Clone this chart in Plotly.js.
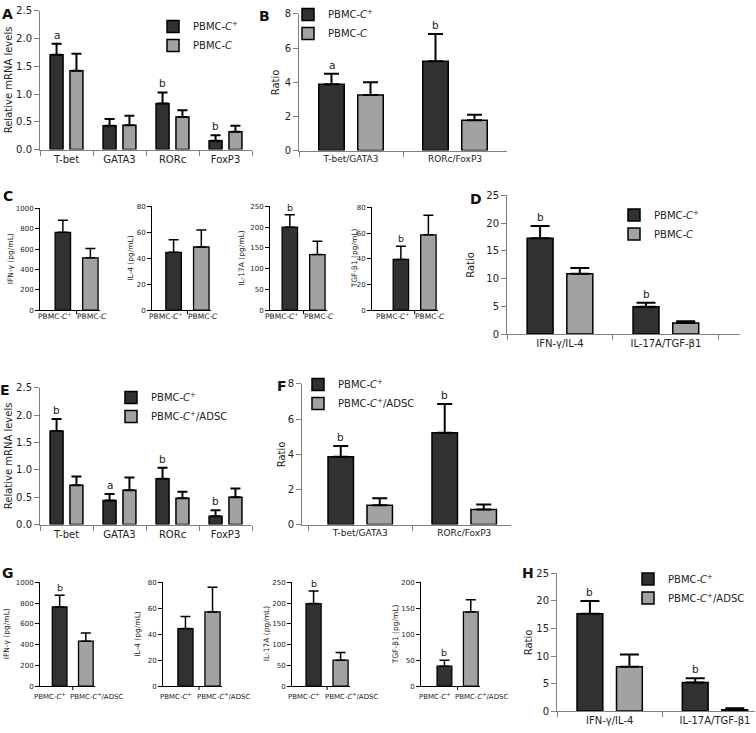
<!DOCTYPE html>
<html><head><meta charset="utf-8">
<script src="https://cdn.plot.ly/plotly-3.0.1.min.js"></script>
<style>html,body{margin:0;padding:0;background:#fff}#chart{width:756px;height:733px}</style>
</head><body><div id="chart"></div>
<script>
// ---------- data ----------
const geneCats = ['T-bet','GATA3','RORc','FoxP3'];
const ratioCats = ['T-bet/GATA3','RORc/FoxP3'];
const cytoRatioCats = ['IFN-γ/IL-4','IL-17A/TGF-β1'];
const C_cats = ['PBMC-<i>C</i><sup>+</sup>','PBMC-<i>C</i>'];
const G_cats = ['PBMC-<i>C</i><sup>+</sup>','PBMC-<i>C</i><sup>+</sup>/ADSC'];
const L_pos = 'PBMC-<i>C</i><sup>+</sup>';
const L_neg = 'PBMC-<i>C</i>';
const L_adsc = 'PBMC-<i>C</i><sup>+</sup>/ADSC';

const A_pos = [1.71,0.43,0.83,0.16];   const A_pos_err = [0.20,0.12,0.20,0.10];
const A_neg = [1.42,0.44,0.59,0.32];   const A_neg_err = [0.31,0.17,0.12,0.11];
const A_sig = ['a','','b','b'];

const B_pos = [3.88,5.23];  const B_pos_err = [0.62,1.59];
const B_neg = [3.26,1.78];  const B_neg_err = [0.74,0.32];
const B_sig = ['a','b'];

const C_ifn = [765,515];    const C_ifn_err = [118,90];   const C_ifn_sig = ['',''];
const C_il4 = [44.6,48.7];  const C_il4_err = [9.8,13.1]; const C_il4_sig = ['',''];
const C_il17 = [200,134];   const C_il17_err = [30,32];   const C_il17_sig = ['b',''];
const C_tgf = [39.5,58.7];  const C_tgf_err = [10.2,15.3]; const C_tgf_sig = ['b',''];

const D_pos = [17.3,4.93];  const D_pos_err = [2.2,0.72];
const D_neg = [10.9,2.0];   const D_neg_err = [1.0,0.3];
const D_sig = ['b','b'];

const E_pos = [1.71,0.44,0.84,0.15];  const E_pos_err = [0.22,0.12,0.20,0.11];
const E_adsc = [0.72,0.63,0.48,0.50]; const E_adsc_err = [0.16,0.23,0.12,0.16];
const E_sig = ['b','a','b','b'];

const F_pos = [3.86,5.23];  const F_pos_err = [0.61,1.63];
const F_adsc = [1.10,0.85]; const F_adsc_err = [0.40,0.29];
const F_sig = ['b','b'];

const G_ifn = [763,433];    const G_ifn_err = [112,79];   const G_ifn_sig = ['b',''];
const G_il4 = [44.4,57.2];  const G_il4_err = [9.4,19];   const G_il4_sig = ['',''];
const G_il17 = [199,62.5];  const G_il17_err = [30,18.5]; const G_il17_sig = ['b',''];
const G_tgf = [38.5,143];   const G_tgf_err = [11.5,23.8]; const G_tgf_sig = ['b',''];

const H_pos = [17.7,5.17];  const H_pos_err = [2.3,0.8];
const H_adsc = [8.07,0.23]; const H_adsc_err = [2.2,0.27];
const H_sig = ['b','b'];

// ---------- styling / layout helpers ----------
const W = 756, H = 733;
const FONT = 'DejaVu Sans, Verdana, sans-serif';
const DARK = '#313131', GRAY = '#a2a2a2', AXC = '#808080', TXT = '#222';
const px = x => x / W, py = y => 1 - y / H;

const traces = [];
const layout = {
  width: W, height: H, margin: {l:0, r:0, t:0, b:0},
  paper_bgcolor: '#fff', plot_bgcolor: 'rgba(0,0,0,0)',
  barmode: 'group', showlegend: true,
  font: {family: FONT, color: TXT},
  annotations: [], shapes: []
};
let n = 0;
function ids(){ n++; const s = n > 1 ? n : ''; return {xa:'xaxis'+s, ya:'yaxis'+s, x:'x'+s, y:'y'+s}; }

function yTitle(id, text, xc, size){
  layout.annotations.push({xref:'paper', yref:id.y + ' domain', x:px(xc), y:0.5, xanchor:'center', yanchor:'middle',
    textangle:-90, text:text, showarrow:false, font:{size:size, family:FONT, color:TXT}});
}

function bigPanel(p){
  const id = ids();
  layout[id.xa] = {domain:[px(p.xd[0]), px(p.xd[1])], anchor:id.y, type:'category', range:p.xr,
    tickson:'boundaries', ticks:'outside', ticklen:5, tickcolor:AXC, showline:true, linecolor:AXC, linewidth:1,
    showgrid:false, zeroline:false, tickangle:0, tickfont:{size:p.xfs, family:FONT, color:TXT}, fixedrange:true};
  layout[id.ya] = {domain:[py(p.yd[1]), py(p.yd[0])], anchor:id.x, range:p.yr, dtick:p.dtick, tick0:0,
    tickformat:p.fmt, ticks:'outside', ticklen:5, tickcolor:AXC, showline:true, linecolor:AXC, linewidth:1,
    showgrid:false, zeroline:false, tickfont:{size:10, family:FONT, color:TXT}, fixedrange:true};
  yTitle(id, p.ytitle, p.tx, 10);
  p.series.forEach((s,k) => {
    traces.push({type:'bar', x:p.cats, y:s.y, name:s.name, xaxis:id.x, yaxis:id.y, legend:p.legend,
      offset: k === 0 ? -0.31 : 0.065, width:0.245,
      marker:{color: k === 0 ? DARK : GRAY, line:{color:'#000', width:1.5}},
      error_y:{type:'data', symmetric:false, array:s.e, arrayminus:s.e.map(() => 0), color:'#000', thickness:2, width:p.cap},
      hoverinfo:'skip'});
  });
  p.sig.forEach((t,i) => {
    if (!t) return;
    layout.annotations.push({xref:id.x, yref:id.y, x:i - 0.1875, y:p.series[0].y[i] + p.series[0].e[i],
      text:t, showarrow:false, yanchor:'bottom', yshift:1, font:{size:10.5, family:FONT, color:TXT}});
  });
  layout[p.legend] = {x:px(p.leg[0] - 42), y:py(p.leg[1]), xanchor:'left', yanchor:'middle',
    bgcolor:'rgba(0,0,0,0)', font:{size:10, family:FONT, color:TXT}, traceorder:'normal'};
}

function smallPanel(p){
  const id = ids();
  const idx = p.cats.map((_, i) => i);
  layout[id.xa] = {domain:[px(p.xd[0]), px(p.xd[1])], anchor:id.y, type:'linear', range:p.xr,
    ticks:'', showticklabels:false, showline:true, linecolor:'#000', linewidth:1, showgrid:false, zeroline:false,
    fixedrange:true};
  layout[id.ya] = {domain:[py(p.yd[1]), py(p.yd[0])], anchor:id.x, range:p.yr, dtick:p.dtick, tick0:0,
    ticks:'outside', ticklen:4, tickcolor:'#000', showline:true, linecolor:'#000', linewidth:1,
    showgrid:false, zeroline:false, tickfont:{size:7, family:FONT, color:TXT}, fixedrange:true};
  yTitle(id, p.ytitle, p.tx, 7.5);
  traces.push({type:'bar', x:idx, y:p.y, xaxis:id.x, yaxis:id.y, showlegend:false,
    offset:-0.28, width:0.56,
    marker:{color:[DARK, GRAY], line:{color:'#000', width:1.3}},
    error_y:{type:'data', symmetric:false, array:p.e, arrayminus:p.e.map(() => 0), color:'#000', thickness:1.5, width:5},
    hoverinfo:'skip'});
  // tick mark between the two bars
  layout.shapes.push({type:'line', xref:id.x, yref:id.y + ' domain', x0:0.5, x1:0.5, y0:0,
    y1:-4 / (p.yd[1] - p.yd[0]), line:{color:'#000', width:1}});
  // category labels under the bars
  p.cats.forEach((c, i) => {
    layout.annotations.push({xref:id.x, yref:id.y + ' domain', x:i, y:0, xanchor:'center', yanchor:'middle',
      xshift:p.lab[i], yshift:-p.ly, text:c, showarrow:false, font:{size:p.lfs, family:FONT, color:TXT}});
  });
  p.sig.forEach((t,i) => {
    if (!t) return;
    layout.annotations.push({xref:id.x, yref:id.y, x:i, y:p.y[i] + p.e[i], text:t, showarrow:false,
      yanchor:'bottom', yshift:0, font:{size:9.5, family:FONT, color:TXT}});
  });
}

// ---------- panels ----------
const cLab = [-7.5, 1.5], gLab = [-10, 11];
bigPanel({xd:[40,252], yd:[9,148], xr:[-0.5,3.5], yr:[0,2.5], dtick:0.5, fmt:'.1f', cats:geneCats, xfs:10,
  series:[{y:A_pos, e:A_pos_err, name:L_pos},{y:A_neg, e:A_neg_err, name:L_neg}], sig:A_sig,
  ytitle:'Relative mRNA levels', tx:8, cap:5, legend:'legend', leg:[195,34]});
bigPanel({xd:[299,507], yd:[12,149], xr:[-0.5,1.5], yr:[0,8], dtick:2, fmt:'d', cats:ratioCats, xfs:9,
  series:[{y:B_pos, e:B_pos_err, name:L_pos},{y:B_neg, e:B_neg_err, name:L_neg}], sig:B_sig,
  ytitle:'Ratio', tx:275, cap:7.5, legend:'legend2', leg:[330,22]});
smallPanel({xd:[40,100], yd:[207,309], xr:[-0.83,1.35], yr:[0,1000], dtick:200, cats:C_cats,
  y:C_ifn, e:C_ifn_err, sig:C_ifn_sig, ytitle:'IFN-γ (pg/mL)', tx:10, lab:cLab, ly:6, lfs:7.5});
smallPanel({xd:[152,211], yd:[205,309], xr:[-0.78,1.35], yr:[0,80], dtick:20, cats:C_cats,
  y:C_il4, e:C_il4_err, sig:C_il4_sig, ytitle:'IL-4 (pg/mL)', tx:130.5, lab:cLab, ly:6, lfs:7.5});
smallPanel({xd:[270,327], yd:[205,309], xr:[-0.72,1.35], yr:[0,250], dtick:50, cats:C_cats,
  y:C_il17, e:C_il17_err, sig:C_il17_sig, ytitle:'IL-17A (pg/mL)', tx:241.5, lab:cLab, ly:6, lfs:7.5});
smallPanel({xd:[372,438], yd:[206,309], xr:[-1.05,1.35], yr:[0,80], dtick:20, cats:C_cats,
  y:C_tgf, e:C_tgf_err, sig:C_tgf_sig, ytitle:'TGF-β1 (pg/mL)', tx:354.5, lab:cLab, ly:6, lfs:7.5});
bigPanel({xd:[507,740], yd:[194,333], xr:[-0.5,1.7], yr:[0,25], dtick:5, fmt:'d', cats:cytoRatioCats, xfs:10,
  series:[{y:D_pos, e:D_pos_err, name:L_pos},{y:D_neg, e:D_neg_err, name:L_neg}], sig:D_sig,
  ytitle:'Ratio', tx:471, cap:9.5, legend:'legend3', leg:[656,223]});
bigPanel({xd:[40,252], yd:[387,524], xr:[-0.5,3.5], yr:[0,2.5], dtick:0.5, fmt:'.1f', cats:geneCats, xfs:10,
  series:[{y:E_pos, e:E_pos_err, name:L_pos},{y:E_adsc, e:E_adsc_err, name:L_adsc}], sig:E_sig,
  ytitle:'Relative mRNA levels', tx:8, cap:5, legend:'legend4', leg:[153,406]});
bigPanel({xd:[302,511], yd:[383,524], xr:[-0.56,1.45], yr:[0,8], dtick:2, fmt:'d', cats:ratioCats, xfs:9,
  series:[{y:F_pos, e:F_pos_err, name:L_pos},{y:F_adsc, e:F_adsc_err, name:L_adsc}], sig:F_sig,
  ytitle:'Ratio', tx:281, cap:7.5, legend:'legend5', leg:[340,393]});
smallPanel({xd:[40,95], yd:[582,686], xr:[-0.75,1.35], yr:[0,1000], dtick:200, cats:G_cats,
  y:G_ifn, e:G_ifn_err, sig:G_ifn_sig, ytitle:'IFN-γ (pg/mL)', tx:6, lab:gLab, ly:10, lfs:7});
smallPanel({xd:[163,222], yd:[582,686], xr:[-0.83,1.35], yr:[0,80], dtick:20, cats:G_cats,
  y:G_il4, e:G_il4_err, sig:G_il4_sig, ytitle:'IL-4 (pg/mL)', tx:137.5, lab:gLab, ly:10, lfs:7});
smallPanel({xd:[292,350], yd:[582,686], xr:[-0.8,1.35], yr:[0,250], dtick:50, cats:G_cats,
  y:G_il17, e:G_il17_err, sig:G_il17_sig, ytitle:'IL-17A (pg/mL)', tx:266, lab:gLab, ly:10, lfs:7});
smallPanel({xd:[421,480], yd:[582,686], xr:[-0.89,1.35], yr:[0,200], dtick:50, cats:G_cats,
  y:G_tgf, e:G_tgf_err, sig:G_tgf_sig, ytitle:'TGF-β1 (pg/mL)', tx:395, lab:gLab, ly:10, lfs:7});
bigPanel({xd:[557,755], yd:[573,711], xr:[-0.5,1.38], yr:[0,25], dtick:5, fmt:'d', cats:cytoRatioCats, xfs:10,
  series:[{y:H_pos, e:H_pos_err, name:L_pos},{y:H_adsc, e:H_adsc_err, name:L_adsc}], sig:H_sig,
  ytitle:'Ratio', tx:528, cap:9.5, legend:'legend6', leg:[670,588]});

// panel letters
const panelLetters = ['A','B','C','D','E','F','G','H'];
const letterPos = [[7.5,12],[264.5,14],[7.5,195],[475.5,197.5],[5,389],[281.5,385],[7.5,572.5],[527.5,572.5]];
panelLetters.forEach((t,i) => {
  layout.annotations.push({xref:'paper', yref:'paper', x:px(letterPos[i][0]), y:py(letterPos[i][1]),
    xanchor:'center', yanchor:'middle', text:t, showarrow:false,
    font:{size:14, family:FONT, color:'#111', weight:'bold'}});
});

Plotly.newPlot('chart', traces, layout, {staticPlot:true, displayModeBar:false});
</script></body></html>
